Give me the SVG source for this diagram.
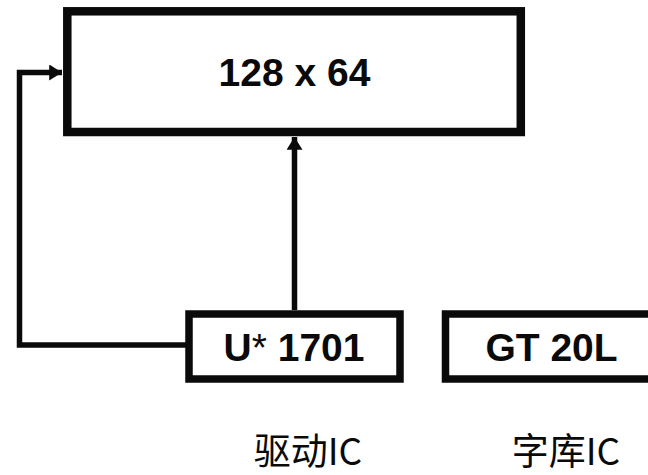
<svg xmlns="http://www.w3.org/2000/svg" width="648" height="475" viewBox="0 0 648 475">
<style>
.box{fill:#fff;stroke:#0a0a0a;stroke-width:8.5}
.sbox{fill:#fff;stroke:#0a0a0a;stroke-width:7.5}
.lbl{font-family:"Liberation Sans","Noto Sans",sans-serif;font-weight:bold;fill:#0a0a0a;text-anchor:middle}
.cap{font-family:"Noto Sans CJK SC","Noto Sans",sans-serif;font-size:37px;fill:#0a0a0a;text-anchor:middle}
.conn{fill:none;stroke:#0a0a0a;stroke-width:5.5}
</style>
<defs>
<marker id="ah" markerUnits="userSpaceOnUse" markerWidth="14" markerHeight="16" viewBox="0 0 12 15" refX="12" refY="7.5" orient="auto">
<path d="M0,0 L12,7.5 L0,15 Z" fill="#0a0a0a"/>
</marker>
</defs>
<rect width="648" height="475" fill="#fff"/>
<g id="connectors">
<path class="conn" d="M294.5,310 L294.5,137" marker-end="url(#ah)"/>
<path class="conn" d="M186,345 L19.5,345 L19.5,72.5 L62,72.5" marker-end="url(#ah)"/>
</g>
<g id="display">
<rect class="box" x="67.3" y="11.3" width="453.5" height="120.7"/>
<text class="lbl" x="294.5" y="86" font-size="39">128 x 64</text>
</g>
<g id="driver">
<rect class="sbox" x="189" y="314" width="211" height="65"/>
<text class="lbl" x="294" y="361" font-size="39">U<tspan font-weight="normal">*</tspan> 1701</text>
</g>
<g id="font">
<rect class="sbox" x="445.5" y="314" width="215" height="65"/>
<text class="lbl" x="551.5" y="361" font-size="39">GT 20L</text>
</g>
<g id="captions">
<text class="cap" x="308" y="465">驱动IC</text>
<text class="cap" x="566" y="465">字库IC</text>
</g>
</svg>
